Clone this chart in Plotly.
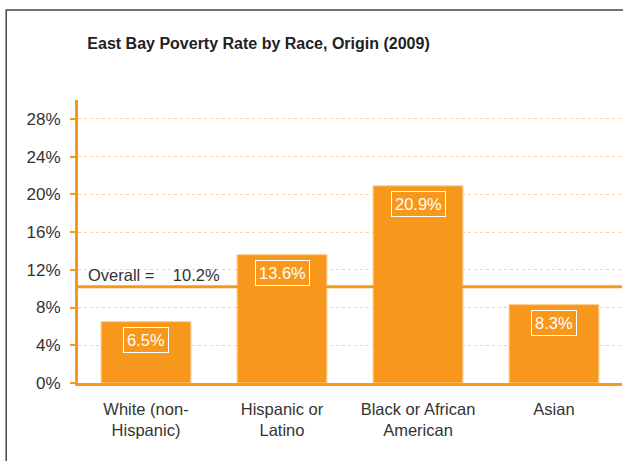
import plotly.graph_objects as go

# Data
categories = ["White (non-<br>Hispanic)", "Hispanic or<br>Latino", "Black or African<br>American", "Asian"]
poverty_rate = [6.5, 13.6, 20.9, 8.3]
overall_rate = 10.2
y_ticks = [0, 4, 8, 12, 16, 20, 24, 28]

color_orange = '#F7981D'
color_text = '#333333'
font_family = 'Arial, Liberation Sans, sans-serif'

fig = go.Figure()

fig.add_trace(go.Bar(
    x=categories,
    y=poverty_rate,
    width=0.66,
    marker=dict(color=color_orange, line=dict(color='#FBCB8C', width=1)),
    hoverinfo='skip',
))

# Overall line
fig.add_hline(y=overall_rate, line=dict(color=color_orange, width=3), layer='above')
fig.add_annotation(
    x=0, xref='paper', y=overall_rate, yref='y',
    text=f"Overall =    {overall_rate}%",
    showarrow=False, xanchor='left', yanchor='bottom',
    xshift=8, yshift=1,
    font=dict(size=16.5, color=color_text),
)

# Value labels inside bars
for cat, val in zip(categories, poverty_rate):
    fig.add_annotation(
        x=cat, y=val, text=f"{val}%",
        showarrow=False, yanchor='top', yshift=-5,
        font=dict(size=16.5, color='white'),
        bordercolor='white', borderwidth=1, borderpad=3,
    )

# Outer frame
fig.add_shape(type='rect', xref='paper', yref='paper',
              x0=-0.132, x1=1.2, y0=-0.5, y1=1.318,
              line=dict(color='#444444', width=1.5), layer='below')

fig.update_layout(
    title=dict(text="<b>East Bay Poverty Rate by Race, Origin (2009)</b>",
               x=0.415, xanchor='center', y=0.905, yanchor='middle',
               font=dict(size=16, color='#222222')),
    font=dict(family=font_family, size=16.5, color=color_text),
    width=623, height=461,
    margin=dict(l=78, r=1, t=100, b=78),
    plot_bgcolor='white', paper_bgcolor='white',
    showlegend=False,
    bargap=0.34,
)

fig.update_yaxes(
    range=[0, 30],
    tickvals=y_ticks,
    ticktext=[f"{v}%" for v in y_ticks],
    showgrid=True, gridcolor='#FAD3A0', griddash='dot', gridwidth=1,
    showline=True, linecolor=color_orange, linewidth=3,
    ticks='outside', tickcolor=color_orange, ticklen=5, tickwidth=2,
    ticklabelstandoff=6,
    zeroline=False,
    tickfont=dict(size=17, color=color_text),
)
fig.update_xaxes(
    showline=True, linecolor=color_orange, linewidth=3,
    ticks='outside', ticklen=9, tickcolor='rgba(0,0,0,0)',
    tickfont=dict(size=16.5, color=color_text),
)

fig.write_html("out.html", config={'displayModeBar': False},
               post_script="document.body.style.margin='0';")
